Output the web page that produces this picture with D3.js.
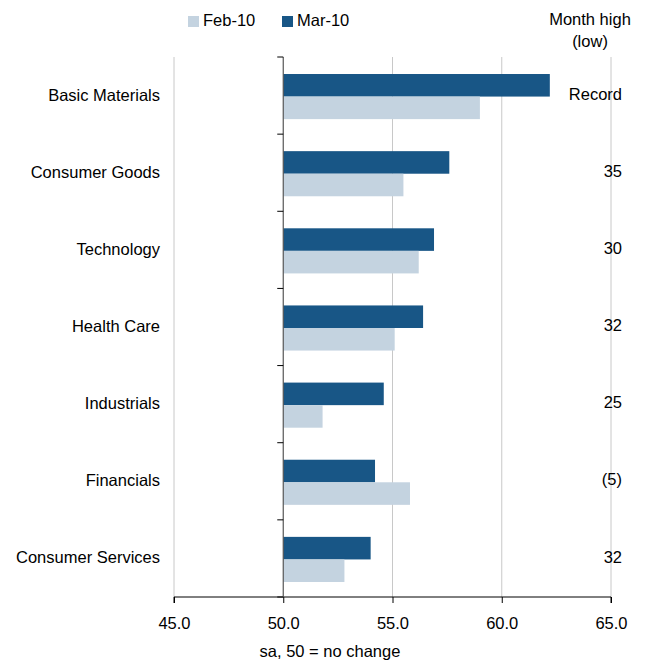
<!DOCTYPE html>
<html>
<head>
<meta charset="utf-8">
<script src="https://cdn.jsdelivr.net/npm/d3@7"></script>
<style>
  body { margin: 0; background: #fff; }
  text { font-family: "Liberation Sans", Arial, sans-serif; fill: #000; }
</style>
</head>
<body>
<div id="chart"></div>
<script>
const categories = ["Basic Materials", "Consumer Goods", "Technology", "Health Care", "Industrials", "Financials", "Consumer Services"];
const mar10 = [62.2, 57.6, 56.9, 56.4, 54.6, 54.2, 54.0];
const feb10 = [59.0, 55.5, 56.2, 55.1, 51.8, 55.8, 52.8];
const monthHigh = ["Record", "35", "30", "32", "25", "(5)", "32"];
const xTicks = [45, 50, 55, 60, 65];

const width = 645, height = 661;
const plotLeft = 174, plotRight = 611, plotTop = 57, plotBottom = 597;
const darkBlue = "#185686", lightBlue = "#c4d3e0";
const fontSize = "16.5px";

const svg = d3.select("#chart").append("svg")
    .attr("width", width)
    .attr("height", height);

const x = d3.scaleLinear().domain([45, 65]).range([plotLeft, plotRight]);
const y = d3.scaleBand().domain(categories).range([plotTop, plotBottom]);
const sub = d3.scaleBand().domain(["mar", "feb"]).range([0, y.bandwidth()]).paddingOuter(0.71).paddingInner(0);

// grid lines
svg.append("g")
    .selectAll("line")
    .data(xTicks.filter(d => d !== 50))
    .enter().append("line")
    .attr("x1", d => x(d)).attr("x2", d => x(d))
    .attr("y1", plotTop).attr("y2", plotBottom)
    .attr("stroke", "#c8c8c8")
    .attr("stroke-width", 1);

// bars
const groups = svg.append("g")
    .selectAll("g")
    .data(categories)
    .enter().append("g")
    .attr("transform", d => `translate(0, ${y(d) + 1})`);

groups.append("rect")
    .attr("x", x(50))
    .attr("y", sub("mar"))
    .attr("width", (d, i) => x(mar10[i]) - x(50))
    .attr("height", sub.bandwidth())
    .attr("fill", darkBlue);

groups.append("rect")
    .attr("x", x(50))
    .attr("y", sub("feb"))
    .attr("width", (d, i) => x(feb10[i]) - x(50))
    .attr("height", sub.bandwidth())
    .attr("fill", lightBlue);

// x axis
const xAxis = d3.axisBottom(x).tickValues(xTicks).tickFormat(d3.format(".1f")).tickSize(6).tickPadding(14);
const gx = svg.append("g")
    .attr("transform", `translate(0, ${plotBottom})`)
    .call(xAxis);
gx.select(".domain").attr("stroke", "#000").attr("d", `M${plotLeft},6V0H${plotRight}V6`);
gx.selectAll(".tick line").attr("stroke", "#000");
gx.selectAll(".tick text").style("font-size", fontSize).attr("fill", "#000")
    .style("font-family", '"Liberation Sans", Arial, sans-serif');

// y axis at 50, ticks at band boundaries
const boundaries = categories.map(c => y(c)).concat([plotBottom]);
const gy = svg.append("g");
gy.append("line")
    .attr("x1", x(50)).attr("x2", x(50))
    .attr("y1", plotTop).attr("y2", plotBottom)
    .attr("stroke", "#555")
    .attr("stroke-width", 1.2);
gy.selectAll(".yt")
    .data(boundaries)
    .enter().append("line")
    .attr("class", "yt")
    .attr("x1", x(50) - 6).attr("x2", x(50))
    .attr("y1", d => d).attr("y2", d => d)
    .attr("stroke", "#000");

// category labels
svg.append("g")
    .selectAll("text")
    .data(categories)
    .enter().append("text")
    .attr("x", 160)
    .attr("y", d => y(d) + y.bandwidth() / 2)
    .attr("dy", "0.3em")
    .attr("text-anchor", "end")
    .style("font-size", fontSize)
    .text(d => d);

// month high labels
svg.append("g")
    .selectAll("text")
    .data(monthHigh)
    .enter().append("text")
    .attr("x", 622)
    .attr("y", (d, i) => y(categories[i]) + y.bandwidth() / 2)
    .attr("dy", "0.25em")
    .attr("text-anchor", "end")
    .style("font-size", fontSize)
    .text(d => d);

// header
svg.append("text").attr("x", 590).attr("y", 25).attr("text-anchor", "middle").style("font-size", fontSize).text("Month high");
svg.append("text").attr("x", 590).attr("y", 47).attr("text-anchor", "middle").style("font-size", fontSize).text("(low)");

// legend
const legend = [{ name: "Feb-10", color: lightBlue, x: 188 }, { name: "Mar-10", color: darkBlue, x: 282 }];
const lg = svg.append("g").selectAll("g").data(legend).enter().append("g");
lg.append("rect").attr("x", d => d.x).attr("y", 16).attr("width", 11).attr("height", 11).attr("fill", d => d.color);
lg.append("text").attr("x", d => d.x + 15).attr("y", 26).style("font-size", fontSize).text(d => d.name);

// axis title
svg.append("text").attr("x", 330).attr("y", 657).attr("text-anchor", "middle").style("font-size", fontSize).text("sa, 50 = no change");
</script>
</body>
</html>
